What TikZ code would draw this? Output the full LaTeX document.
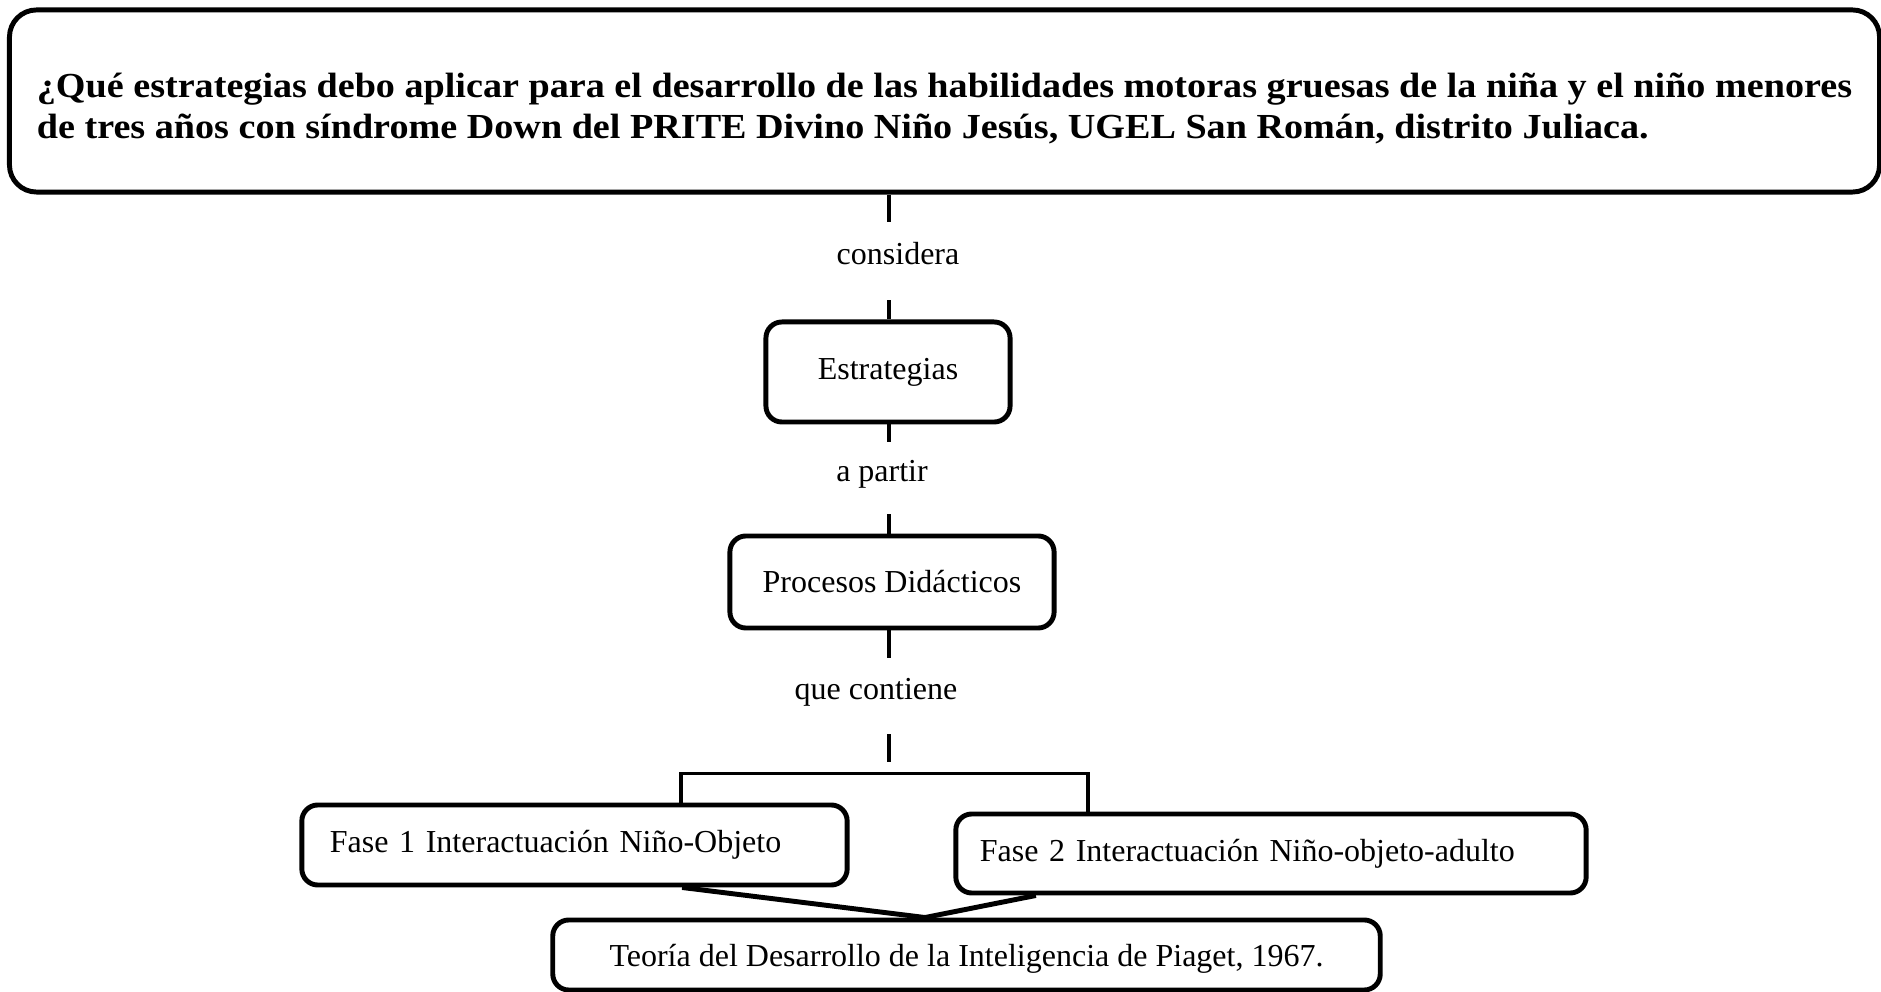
\documentclass[tikz,border=0pt]{standalone}
\usepackage{fontspec}
\setmainfont{Liberation Serif}
\newfontfamily\widefont[FakeStretch = 1.085]{Liberation Serif}
\usepackage{tikz}

\begin{document}
\begin{tikzpicture}[x = 0.01cm, y = -0.01cm, font = \fontsize{9.1}{10.5}\selectfont]
\tikzstyle{mybox} = [draw, line width = 1.4pt, rounded corners = 0.16cm, inner sep = 0 pt]
\tikzstyle{mylabel} = [fill = white, inner sep = 0 pt, text height = 0.22cm, text depth = 0.14cm]
\tikzstyle{mylink} = [line width = 1.4pt]
\useasboundingbox (0,0) rectangle (1881,992);

% question and the chain below it
\node [mybox, rounded corners = 0.27cm, minimum width = 18.69cm, minimum height = 1.82cm, align = left,
 font = \widefont\fontsize{10}{11.6}\selectfont\bfseries] (q) at (944.5,101)
 {\rule{0pt}{11.2pt}¿Qué estrategias debo aplicar para el desarrollo de las habilidades motoras gruesas de la niña y el niño menores\\
 de tres años con síndrome Down del PRITE Divino Niño Jesús, UGEL San Román, distrito Juliaca.};
\node [mybox, minimum width = 2.44cm, minimum height = 1cm] (e) at (888,372) {Estrategias};
\node [mybox, minimum width = 3.24cm, minimum height = 0.92cm] (p) at (892,582) {Procesos Didácticos};
\coordinate (pend) at (889,762);

% phases and theory
\node [mybox, minimum width = 5.45cm, minimum height = 0.8cm, text width = 4.89cm, align = left] (f1) at (574.5,845) {Fase 1 Interactuación Niño-Objeto};
\node [mybox, minimum width = 6.3cm, minimum height = 0.79cm, text width = 5.82cm, align = left] (f2) at (1271,853.5) {Fase 2 Interactuación Niño-objeto-adulto};
\node [mybox, minimum width = 8.27cm, minimum height = 0.7cm, text depth = 0 pt] (t) at (966.5,955) {Teoría del Desarrollo de la Inteligencia de Piaget, 1967.};

\draw [mylink] (q.south -| pend) -- (e.north -| pend);
\draw [mylink] (e.south -| pend) -- (p.north -| pend);
\draw [mylink] (p.south -| pend) -- (pend);
\node [mylabel, minimum height = 0.78cm] (c1) at (898,261) {considera};
\node [mylabel, minimum height = 0.72cm] (c2) at (882,478) {a partir};
\node [mylabel, minimum height = 0.76cm] (c3) at (876,696) {que contiene};

\draw [line width = 1.1pt] ([xshift = 1.065cm]f1.north) -- ++(0,-29) -| ([xshift = -1.83cm]f2.north);
\draw [mylink] ([xshift = 1.075cm]f1.south) -- ([xshift = -0.415cm]t.north) -- ([xshift = -2.35cm]f2.south);
\end{tikzpicture}
\end{document}
